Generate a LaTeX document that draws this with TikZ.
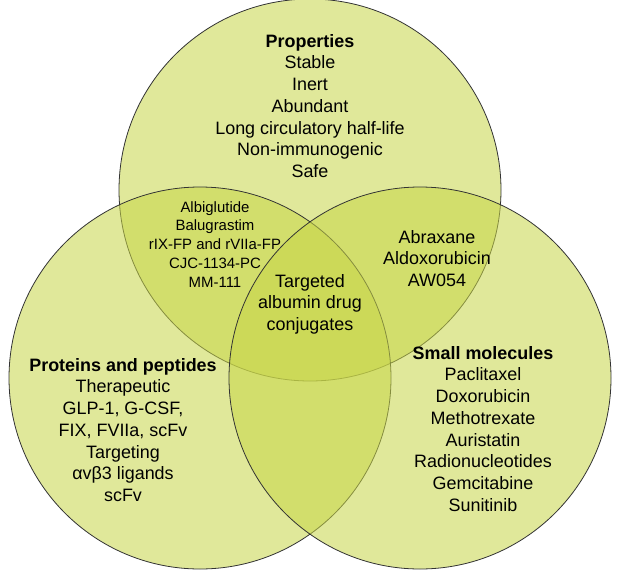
\documentclass[tikz,border=0pt]{standalone}
\usepackage{fontspec}
\setmainfont{Liberation Sans}
\begin{document}
\begin{tikzpicture}[x=1bp,y=-1bp,
  circ/.style={draw=black!80,line width=0.8bp,fill={rgb,255:red,200;green,214;blue,72},fill opacity=0.55},
  txt/.style={align=center,font=\fontsize{18}{21.8}\selectfont,inner sep=0pt},
  sml/.style={align=center,font=\fontsize{15}{19}\selectfont,inner sep=0pt}]
\useasboundingbox (0,0) rectangle (621,577);
\fill[white] (0,0) rectangle (621,577);
\path[circ] (310,190) circle[radius=191];
\path[circ] (200,378) circle[radius=191];
\path[circ] (420,378) circle[radius=191];
\node[txt,anchor=north] (p) at (310,34) {\textbf{Properties}\\Stable\\Inert\\Abundant\\Long circulatory half-life\\Non-immunogenic\\Safe};
\node[sml,anchor=north] (i1) at (215,201) {Albiglutide\\Balugrastim\\rIX-FP and rVIIa-FP\\CJC-1134-PC\\MM-111};
\node[txt,anchor=north] (i2) at (437,230) {Abraxane\\Aldoxorubicin\\AW054};
\node[txt,anchor=north] (c) at (310,274) {Targeted\\albumin drug\\conjugates};
\node[txt,anchor=north] (l) at (123,358) {\textbf{Proteins and peptides}\\Therapeutic\\GLP-1, G-CSF,\\FIX, FVIIa, scFv\\Targeting\\αvβ3 ligands\\scFv};
\node[txt,anchor=north] (r) at (483,346) {\textbf{Small molecules}\\Paclitaxel\\Doxorubicin\\Methotrexate\\Auristatin\\Radionucleotides\\Gemcitabine\\Sunitinib};
\end{tikzpicture}
\end{document}
